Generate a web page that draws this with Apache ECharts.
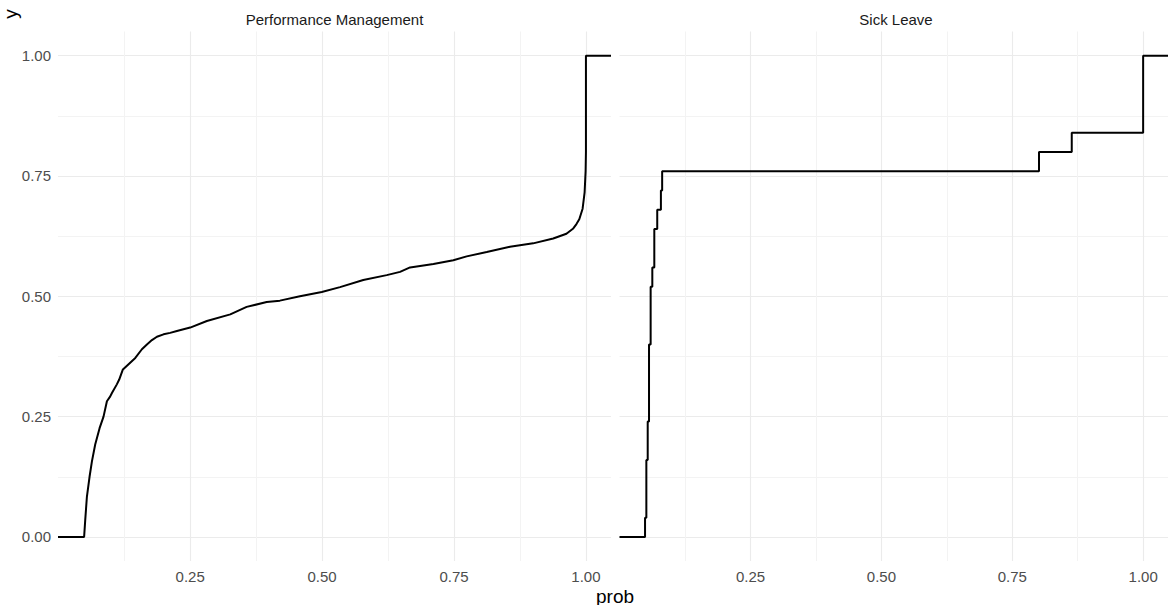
<!DOCTYPE html>
<html>
<head>
<meta charset="utf-8">
<script src="https://cdn.jsdelivr.net/npm/echarts@6/dist/echarts.min.js"></script>
<style>
html,body{margin:0;padding:0;background:#fff;}
#chart{width:1168px;height:605px;}
</style>
</head>
<body>
<div id="chart"></div>
<script>
// ---- data ----
const panels = ['Performance Management', 'Sick Leave'];
const xLo = -0.0005, xHi = 1.0475;   // -Inf / Inf ends of the ECDF (panel limits)

const perfX = [xLo, 0.049, 0.0511, 0.0543, 0.0593, 0.0638, 0.070, 0.0783, 0.0858, 0.0922, 0.0985, 0.1017,
  0.111, 0.1155, 0.1225, 0.146, 0.1585, 0.168, 0.1775, 0.187, 0.1995, 0.212, 0.2248, 0.25, 0.2816, 0.326, 0.357, 0.395, 0.42, 0.458,
  0.4994, 0.534, 0.578, 0.6225, 0.6477, 0.6667, 0.711, 0.7487, 0.774, 0.812, 0.856, 0.900, 0.938,
  0.963, 0.976, 0.982, 0.9874, 0.9937, 0.9975, 0.9987, 0.9994, 1.0, 1.0, xHi];
const perfY = [0, 0, 0.035, 0.084, 0.125, 0.157, 0.192, 0.226, 0.25, 0.282, 0.292, 0.299,
  0.317, 0.327, 0.348, 0.372, 0.390, 0.400, 0.409, 0.416, 0.421, 0.424, 0.428, 0.435, 0.4486, 0.4625, 0.478, 0.488, 0.491, 0.50,
  0.509, 0.519, 0.534, 0.544, 0.5507, 0.56, 0.567, 0.575, 0.583, 0.592, 0.603, 0.610, 0.620,
  0.630, 0.641, 0.650, 0.660, 0.682, 0.716, 0.744, 0.76, 0.80, 1.0, 1.0];

const sickX = [xLo, 0.0483, 0.0508, 0.0534, 0.0559, 0.059, 0.0622, 0.066, 0.0716, 0.0786, 0.081, 0.801, 0.8636, 1.0, xHi];
const sickY = [0, 0.04, 0.16, 0.24, 0.40, 0.52, 0.56, 0.64, 0.68, 0.72, 0.76, 0.80, 0.84, 1.0, 1.0];

const xTicks = [0.125, 0.25, 0.375, 0.5, 0.625, 0.75, 0.875, 1.0];
const xLabels = [0.25, 0.5, 0.75, 1.0];
const yTicks = [0, 0.125, 0.25, 0.375, 0.5, 0.625, 0.75, 0.875, 1.0];
const yLabels = [0, 0.25, 0.5, 0.75, 1.0];

const FONT = 'Liberation Sans, Arial, Helvetica, sans-serif';
const pairs = (xs, ys) => xs.map((x, i) => [x, ys[i]]);

const gridTop = 31.6, gridH = 529.4, gridW = 553;
const lefts = [58, 619.5];

function xAxis(i) {
  return {
    type: 'value', gridIndex: i, min: xLo, max: xHi,
    axisLine: {show: false},
    axisTick: {show: false, customValues: xTicks},
    axisLabel: {customValues: xLabels, formatter: v => v.toFixed(2), color: '#4D4D4D',
      fontSize: 15, fontFamily: FONT, margin: 8},
    splitLine: {show: true, lineStyle: {color: ['#F3F3F3', '#EBEBEB'], width: 1.1}}
  };
}
function yAxis(i) {
  return {
    type: 'value', gridIndex: i, min: -0.05, max: 1.05,
    axisLine: {show: false},
    axisTick: {show: false, customValues: yTicks},
    axisLabel: {show: i === 0, customValues: yLabels, formatter: v => v.toFixed(2), color: '#4D4D4D',
      fontSize: 15, fontFamily: FONT, margin: 7},
    splitLine: {show: true, lineStyle: {color: ['#EBEBEB', '#F3F3F3'], width: 1.1}}
  };
}

const chart = echarts.init(document.getElementById('chart'), null, {renderer: 'svg'});
chart.setOption({
  animation: false,
  backgroundColor: '#ffffff',
  grid: lefts.map(l => ({left: l, top: gridTop, width: gridW, height: gridH, containLabel: false}))
    .concat([{left: 18, top: 4, width: 10, height: 20, containLabel: false}]),
  xAxis: [xAxis(0), xAxis(1),
    {type: 'value', gridIndex: 2, min: 0, max: 1, show: false}],
  yAxis: [yAxis(0), yAxis(1),
    {type: 'value', gridIndex: 2, min: 0, max: 1, name: 'y', nameLocation: 'middle', nameRotate: 90, nameGap: 0,
      nameTextStyle: {color: '#000', fontSize: 19, fontFamily: FONT},
      axisLine: {show: false}, axisTick: {show: false}, axisLabel: {show: false}, splitLine: {show: false}}],
  series: [
    {type: 'line', xAxisIndex: 0, yAxisIndex: 0, data: pairs(perfX, perfY), showSymbol: false, symbol: 'none',
      lineStyle: {color: '#000', width: 2}},
    {type: 'line', xAxisIndex: 1, yAxisIndex: 1, data: pairs(sickX, sickY), step: 'end', showSymbol: false, symbol: 'none',
      lineStyle: {color: '#000', width: 2}}
  ],
  graphic: [
    {type: 'text', x: lefts[0] + gridW / 2, y: 19, style: {text: panels[0], fill: '#1A1A1A', fontSize: 15, fontFamily: FONT,
      textAlign: 'center', textVerticalAlign: 'middle', align: 'center', verticalAlign: 'middle'}},
    {type: 'text', x: lefts[1] + gridW / 2, y: 19, style: {text: panels[1], fill: '#1A1A1A', fontSize: 15, fontFamily: FONT,
      textAlign: 'center', textVerticalAlign: 'middle', align: 'center', verticalAlign: 'middle'}},
    {type: 'text', x: 615, y: 596, style: {text: 'prob', fill: '#000', fontSize: 19, fontFamily: FONT,
      textAlign: 'center', textVerticalAlign: 'middle', align: 'center', verticalAlign: 'middle'}}
  ]
});
</script>
</body>
</html>
